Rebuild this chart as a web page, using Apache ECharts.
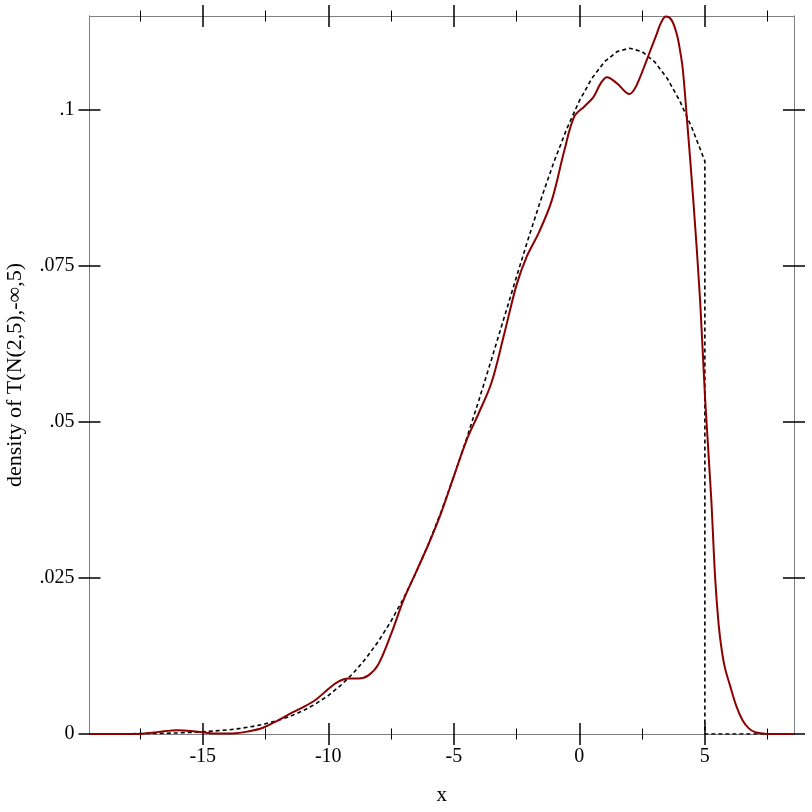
<!DOCTYPE html>
<html>
<head>
<meta charset="utf-8">
<script src="https://cdn.jsdelivr.net/npm/echarts@6/dist/echarts.min.js"></script>
<style>html,body{margin:0;padding:0;background:#fff}#c{width:812px;height:812px}</style>
</head>
<body>
<div id="c"></div>
<script>
// Kernel density estimate (red)
const kdeX = [-19.5, -18, -17.4, -16.8, -16.0, -15.3, -14.6, -13.8, -13.2, -12.6, -12.0, -11.5, -11.0, -10.5, -10.0, -9.6, -9.2, -8.8, -8.4, -8.0, -7.5, -7.0, -6.5, -6.0, -5.5, -5.0, -4.5, -4.0, -3.5, -3.0, -2.5, -2.1, -1.6, -1.1, -0.6, -0.2, 0.2, 0.56, 0.85, 1.1, 1.5, 2.0, 2.2, 2.42, 2.68, 2.88, 3.08, 3.25, 3.45, 3.68, 3.88, 4.01, 4.12, 4.28, 4.54, 4.81, 5.01, 5.25, 5.41, 5.55, 5.67, 5.8, 6.0, 6.25, 6.5, 6.75, 7.0, 7.3, 7.6, 8.55];
const kdeY = [0, 0, 0.00005, 0.0003, 0.0006, 0.0004, 0.0001, 0.0001, 0.0004, 0.0010, 0.0022, 0.0033, 0.0043, 0.0055, 0.0072, 0.0084, 0.0089, 0.0089, 0.0094, 0.0112, 0.0160, 0.0215, 0.0260, 0.0305, 0.0355, 0.0413, 0.0470, 0.0515, 0.0563, 0.0640, 0.0720, 0.0765, 0.0805, 0.0855, 0.0935, 0.0990, 0.1006, 0.1021, 0.1043, 0.1053, 0.1043, 0.1026, 0.1034, 0.1053, 0.1080, 0.1101, 0.1122, 0.1140, 0.1150, 0.1144, 0.1122, 0.1096, 0.1066, 0.0989, 0.0855, 0.0695, 0.0537, 0.0380, 0.0250, 0.0175, 0.0135, 0.0106, 0.0078, 0.0045, 0.0022, 0.0009, 0.0003, 0.0001, 0, 0];
// Truncated normal density (dashed)
const densX = [-19.5, -18, -17, -16, -15, -14, -13.5, -13, -12.5, -12, -11.5, -11, -10.5, -10, -9.5, -9, -8.5, -8, -7.5, -7, -6.5, -6, -5.5, -5, -4.5, -4, -3.5, -3, -2.5, -2, -1.5, -1, -0.5, 0, 0.5, 1, 1.5, 2, 2.5, 3, 3.5, 4, 4.5, 5, 5, 8.55];
const densY = [0.00001, 0.00004, 0.00008, 0.00017, 0.00034, 0.00066, 0.0009, 0.00122, 0.00164, 0.00218, 0.00287, 0.00374, 0.00483, 0.00617, 0.00781, 0.00977, 0.01212, 0.01488, 0.01808, 0.02176, 0.02591, 0.03056, 0.03570, 0.04126, 0.04723, 0.05352, 0.06004, 0.06668, 0.07333, 0.07983, 0.08605, 0.09183, 0.09702, 0.10149, 0.10510, 0.10776, 0.10939, 0.10994, 0.10939, 0.10776, 0.10510, 0.10149, 0.09702, 0.09183, 0, 0];
// Axis ticks
const xMajorTicks = [-15, -10, -5, 0, 5];
const xMinorTicks = [-17.5, -12.5, -7.5, -2.5, 2.5, 7.5];
const yTicks = [0, 0.025, 0.05, 0.075, 0.1];
const xRange = [-19.51, 8.55];
const yRange = [0, 0.1151];
const xName = 'x';
const yName = 'density of T(N(2,5),-∞,5)';

const FONT = 'Liberation Serif';
const GRAY = '#808080';

function xAx(position, ticks, inside, len, w, label, name) {
  return {
    type: 'value', position: position, min: xRange[0], max: xRange[1],
    name: name || '', nameLocation: 'middle', nameGap: 51,
    nameTextStyle: { fontFamily: FONT, fontSize: 21, color: '#000' },
    axisLine: { show: true, onZero: false, lineStyle: { color: GRAY, width: 1 } },
    splitLine: { show: false },
    axisTick: { show: true, inside: inside, length: len, customValues: ticks, lineStyle: { color: '#000', width: w } },
    axisLabel: label ? { show: true, customValues: xMajorTicks, fontFamily: FONT, fontSize: 20, color: '#000', margin: 13, formatter: v => String(v) } : { show: false }
  };
}
function yAx(position, inside, label, name) {
  return {
    type: 'value', position: position, min: yRange[0], max: yRange[1],
    name: name || '', nameLocation: 'middle', nameGap: 63,
    nameTextStyle: { fontFamily: FONT, fontSize: 22, color: '#000' },
    axisLine: { show: true, onZero: false, lineStyle: { color: GRAY, width: 1 } },
    splitLine: { show: false },
    axisTick: { show: true, inside: inside, length: 11, customValues: yTicks, lineStyle: { color: '#000', width: 1.5 } },
    axisLabel: label ? { show: true, customValues: yTicks, fontFamily: FONT, fontSize: 20, color: '#000', margin: 15,
      formatter: v => v === 0 ? '0' : String(v).replace(/^0/, '') } : { show: false }
  };
}

const chart = echarts.init(document.getElementById('c'), null, { renderer: 'canvas' });
chart.setOption({
  animation: false,
  backgroundColor: '#fff',
  grid: { left: 89.5, right: 18, top: 16, bottom: 78, containLabel: false, outerBoundsMode: 'none' },
  xAxis: [
    xAx('bottom', xMajorTicks, true, 11, 1.5, true, xName),
    xAx('bottom', xMajorTicks, false, 11, 1.5, false),
    xAx('bottom', xMinorTicks, true, 5.5, 1, false),
    xAx('bottom', xMinorTicks, false, 5.5, 1, false),
    xAx('top', xMajorTicks, true, 11, 1.5, false),
    xAx('top', xMajorTicks, false, 11, 1.5, false),
    xAx('top', xMinorTicks, true, 5.5, 1, false),
    xAx('top', xMinorTicks, false, 5.5, 1, false)
  ],
  yAxis: [
    yAx('left', true, true, yName),
    yAx('left', false, false),
    yAx('right', true, false),
    yAx('right', false, false)
  ],
  series: [
    {
      type: 'line', xAxisIndex: 0, yAxisIndex: 0, showSymbol: false, smooth: false,
      data: densX.map((x, i) => [x, densY[i]]),
      lineStyle: { color: '#000', width: 1.6, type: [4, 3] }, z: 3
    },
    {
      type: 'line', xAxisIndex: 0, yAxisIndex: 0, showSymbol: false, smooth: 0.35,
      data: kdeX.map((x, i) => [x, kdeY[i]]),
      lineStyle: { color: '#8b0000', width: 2 }, z: 4
    }
  ]
});
</script>
</body>
</html>
